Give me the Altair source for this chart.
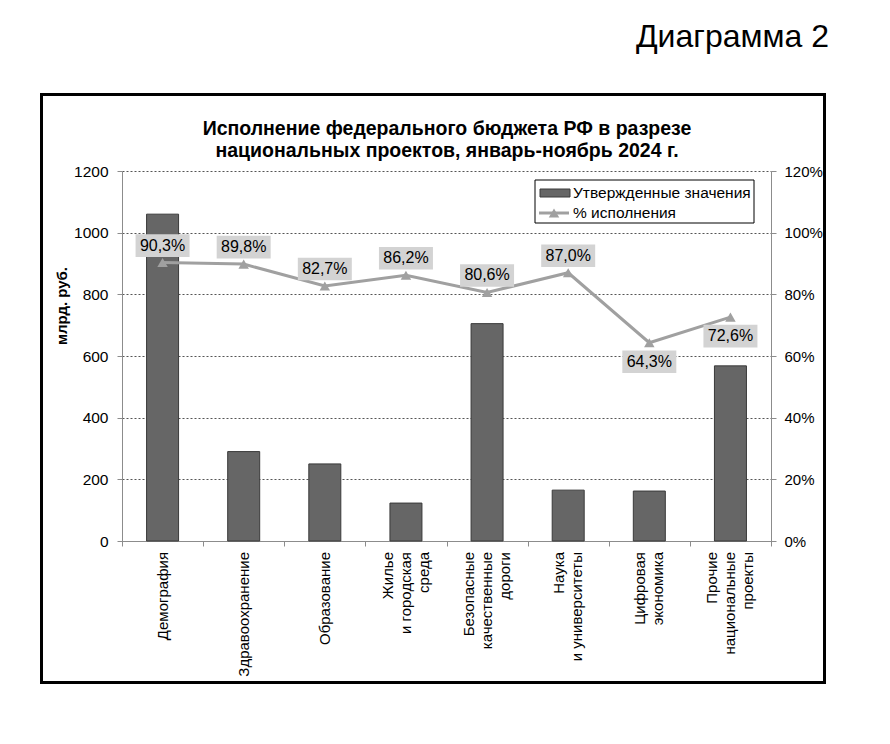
import altair as alt
import pandas as pd

# ---------------- data ----------------
categories = [
    "Демография",
    "Здравоохранение",
    "Образование",
    "Жилье\nи городская\nсреда",
    "Безопасные\nкачественные\nдороги",
    "Наука\nи университеты",
    "Цифровая\nэкономика",
    "Прочие\nнациональные\nпроекты",
]
approved = [1060, 290, 250, 123, 705, 165, 162, 568]
execution_pct = [90.3, 89.8, 82.7, 86.2, 80.6, 87.0, 64.3, 72.6]
labels_below = ["Цифровая\nэкономика", "Прочие\nнациональные\nпроекты"]

left_ticks = [0, 200, 400, 600, 800, 1000, 1200]
right_ticks = [0, 0.2, 0.4, 0.6, 0.8, 1.0, 1.2]

chart_title = ["Исполнение федерального бюджета РФ в разрезе",
               "национальных проектов, январь-ноябрь 2024 г."]
header = "Диаграмма 2"
y_title = "млрд. руб."
legend_bar = "Утвержденные значения"
legend_line = "% исполнения"

df = pd.DataFrame({
    "category": categories,
    "approved": approved,
    "pct": [v / 100 for v in execution_pct],
    "label": [f"{v:.1f}%".replace(".", ",") for v in execution_pct],
    "below": [c in labels_below for c in categories],
})
dummy = pd.DataFrame({"d": [0]})

FONT = "Liberation Sans"
W, H = 649, 370
BAR_FILL = "#666666"
BAR_STROKE = "#3a3a3a"
LINE = "#a0a0a0"
BOX = "#d3d3d3"
AXIS_GREY = "#8c8c8c"
LH = 18

x_enc = alt.X(
    "category:N", sort=categories,
    scale=alt.Scale(paddingInner=0, paddingOuter=0),
    axis=alt.Axis(title=None, labels=False, tickBand="extent", tickSize=5,
                  domainColor=AXIS_GREY, tickColor=AXIS_GREY),
)

y_left = alt.Y(
    "approved:Q", scale=alt.Scale(domain=[0, 1200], nice=False),
    axis=alt.Axis(orient="left", title=None, values=left_ticks, format="d",
                  tickSize=5, labelPadding=9, labelFontSize=15.5, labelFont=FONT,
                  labelColor="black", domainColor=AXIS_GREY, tickColor=AXIS_GREY,
                  grid=True, gridColor="#555555", gridDash=[2, 2], gridWidth=1),
)

y_right = alt.Y(
    "pct:Q", scale=alt.Scale(domain=[0, 1.2], nice=False),
    axis=alt.Axis(orient="right", title=None, values=right_ticks, format=".0%",
                  tickSize=5, labelPadding=8, labelFontSize=15, labelFont=FONT,
                  labelColor="black", domainColor=AXIS_GREY, tickColor=AXIS_GREY,
                  grid=False),
)

base = alt.Chart(df)

bars = base.mark_bar(width=32, fill=BAR_FILL, stroke=BAR_STROKE, strokeWidth=1).encode(
    x=x_enc, y=y_left)

# category labels (rotated, multi-line block centred on its band)
cat_layers = []
for n in (1, 2, 3):
    cat_layers.append(
        base.transform_calculate(nlines="length(split(datum.category, '\\n'))")
        .transform_filter(f"datum.nlines == {n}")
        .mark_text(angle=270, align="right", baseline="middle", lineBreak="\n",
                   lineHeight=LH, dy=-(n - 1) * LH / 2, font=FONT, fontSize=15,
                   color="black")
        .encode(x=x_enc, y=alt.value(H + 11), text="category:N")
    )

line = base.mark_line(color=LINE, strokeWidth=3).encode(x=x_enc, y=y_right)
pts = base.mark_point(shape="triangle-up", filled=True, size=110, color=LINE,
                      opacity=1).encode(x=x_enc, y=y_right)

box_path = "M-1,-0.42 L1,-0.42 L1,0.42 L-1,0.42 Z"
box_up = base.transform_filter("!datum.below").mark_point(
    shape=box_path, filled=True, size=54 * 54, color=BOX, opacity=1, yOffset=-17
).encode(x=x_enc, y=y_right)
box_dn = base.transform_filter("datum.below").mark_point(
    shape=box_path, filled=True, size=54 * 54, color=BOX, opacity=1, yOffset=19
).encode(x=x_enc, y=y_right)
txt_up = base.transform_filter("!datum.below").mark_text(
    font=FONT, fontSize=16, color="black", dy=-17, baseline="middle"
).encode(x=x_enc, y=y_right, text="label:N")
txt_dn = base.transform_filter("datum.below").mark_text(
    font=FONT, fontSize=16, color="black", dy=19, baseline="middle"
).encode(x=x_enc, y=y_right, text="label:N")

right_layer = alt.layer(line, pts, box_up, box_dn, txt_up, txt_dn)

deco = alt.Chart(dummy)
border = deco.mark_rect(fillOpacity=0, stroke="black", strokeWidth=3).encode(
    x=alt.value(-80.5), x2=alt.value(702.5), y=alt.value(-76.5), y2=alt.value(511.5))
header_txt = deco.mark_text(font=FONT, fontSize=32, align="right", baseline="alphabetic",
                            color="black").encode(
    x=alt.value(707), y=alt.value(-124), text=alt.value(header))
title_txt = deco.mark_text(font=FONT, fontSize=19.5, fontWeight="bold", align="center",
                           baseline="middle", color="black", lineHeight=22).encode(
    x=alt.value(325), y=alt.value(-42), text=alt.value(chart_title))
ytitle_txt = deco.mark_text(font=FONT, fontSize=15, fontWeight="bold", angle=270,
                            align="center", baseline="middle", color="black").encode(
    x=alt.value(-60), y=alt.value(135), text=alt.value(y_title))

# legend
leg_box = deco.mark_rect(fill="white", stroke="black", strokeWidth=1).encode(
    x=alt.value(413), x2=alt.value(632), y=alt.value(9), y2=alt.value(52))
leg_bar = deco.mark_rect(fill=BAR_FILL, stroke=BAR_STROKE, strokeWidth=1).encode(
    x=alt.value(418), x2=alt.value(448), y=alt.value(18), y2=alt.value(26))
leg_line = deco.mark_rule(color=LINE, strokeWidth=3).encode(
    x=alt.value(417), x2=alt.value(447), y=alt.value(42))
leg_pt = deco.mark_point(shape="triangle-up", filled=True, size=110, color=LINE,
                         opacity=1).encode(x=alt.value(432), y=alt.value(42))
leg_t1 = deco.mark_text(font=FONT, fontSize=15.5, align="left", baseline="middle",
                        color="black").encode(
    x=alt.value(451), y=alt.value(22), text=alt.value(legend_bar))
leg_t2 = deco.mark_text(font=FONT, fontSize=15.5, align="left", baseline="middle",
                        color="black").encode(
    x=alt.value(451), y=alt.value(42), text=alt.value(legend_line))

chart = alt.layer(
    bars, *cat_layers, right_layer,
    border, header_txt, title_txt, ytitle_txt,
    leg_box, leg_bar, leg_line, leg_pt, leg_t1, leg_t2,
).resolve_scale(y="independent").properties(
    width=W, height=H,
    autosize=alt.AutoSizeParams(type="none"),
    padding={"left": 114, "top": 163, "right": 111, "bottom": 195},
    background="white",
).configure_view(strokeWidth=0)

chart.save("out.html", embed_options={"renderer": "svg", "actions": False})
